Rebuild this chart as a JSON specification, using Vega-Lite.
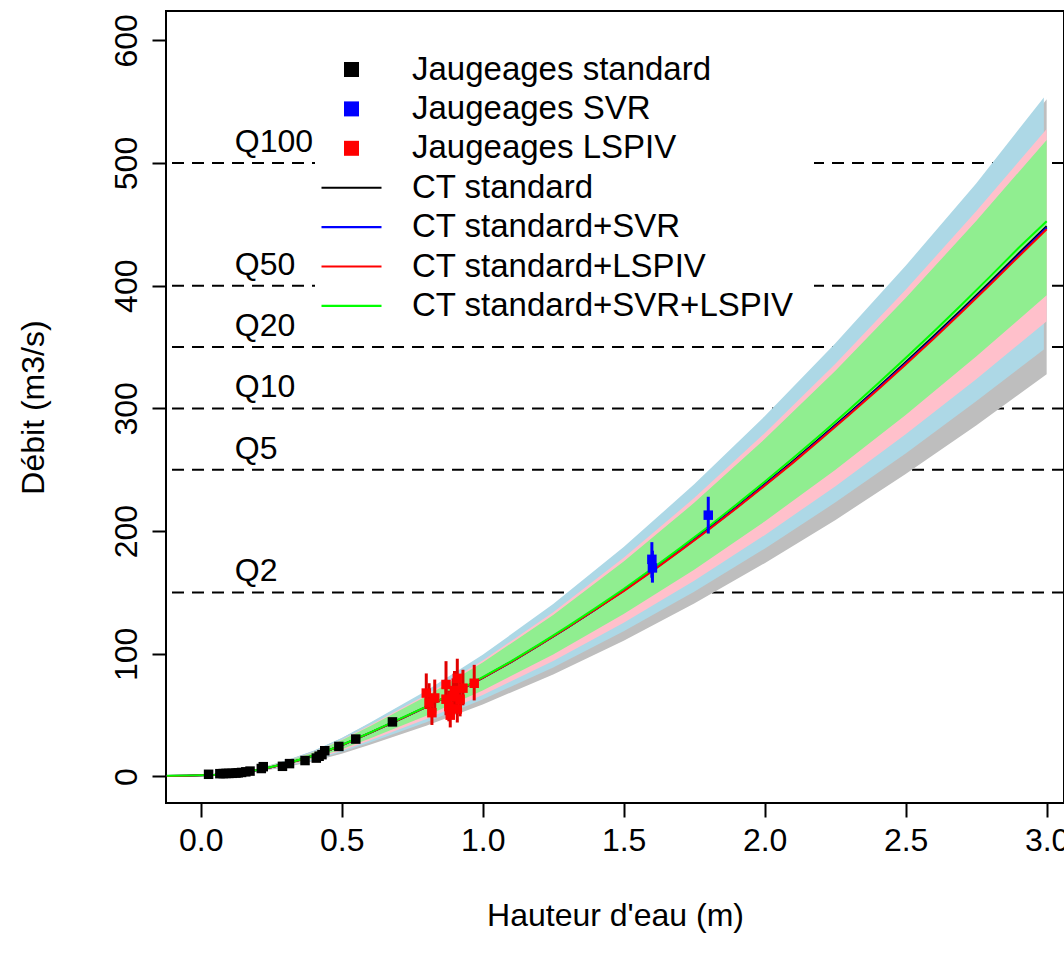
{
  "$schema": "https://vega.github.io/schema/vega-lite/v6.json",
  "width": 898,
  "height": 792,
  "autosize": {"type": "none"},
  "padding": {"left": 166, "top": 11, "right": 0, "bottom": 155},
  "background": "white",
  "config": {
    "font": "Liberation Sans",
    "view": {"stroke": "black", "strokeWidth": 2},
    "axis": {"grid": false, "domain": false, "tickColor": "black", "tickWidth": 2, "tickSize": 14, "labelFontSize": 32, "labelColor": "black", "labelFont": "Liberation Sans", "titleFont": "Liberation Sans", "titleFontSize": 32, "titleFontWeight": "normal", "titleColor": "black", "labelFlush": false, "labelOverlap": false}
  },
  "datasets": {
    "qref": [
      {"Q": 500, "label": "Q100"},
      {"Q": 400, "label": "Q50"},
      {"Q": 350, "label": "Q20"},
      {"Q": 300, "label": "Q10"},
      {"Q": 250, "label": "Q5"},
      {"Q": 150, "label": "Q2"}
    ],
    "bands": [
      {"band": "gris", "h": -0.12, "lo": 0.37, "hi": 0.61},
      {"band": "gris", "h": 0, "lo": 0.73, "hi": 1.22},
      {"band": "gris", "h": 0.1, "lo": 1.61, "hi": 2.68},
      {"band": "gris", "h": 0.2, "lo": 3.8, "hi": 6.34},
      {"band": "gris", "h": 0.3, "lo": 7.59, "hi": 12.69},
      {"band": "gris", "h": 0.4, "lo": 12.41, "hi": 20.74},
      {"band": "gris", "h": 0.5, "lo": 18.62, "hi": 31.11},
      {"band": "gris", "h": 0.6, "lo": 25.92, "hi": 43.31},
      {"band": "gris", "h": 0.8, "lo": 41.39, "hi": 69.17},
      {"band": "gris", "h": 1.0, "lo": 58.69, "hi": 98.09},
      {"band": "gris", "h": 1.25, "lo": 83.22, "hi": 139.08},
      {"band": "gris", "h": 1.5, "lo": 110.74, "hi": 185.07},
      {"band": "gris", "h": 1.75, "lo": 140.96, "hi": 235.58},
      {"band": "gris", "h": 2.0, "lo": 173.81, "hi": 290.48},
      {"band": "gris", "h": 2.25, "lo": 208.93, "hi": 349.16},
      {"band": "gris", "h": 2.5, "lo": 246.45, "hi": 411.87},
      {"band": "gris", "h": 2.75, "lo": 286.16, "hi": 478.24},
      {"band": "gris", "h": 3.0, "lo": 327.92, "hi": 552.0},
      {"band": "bleu", "h": -0.12, "lo": 0.39, "hi": 0.62},
      {"band": "bleu", "h": 0, "lo": 0.78, "hi": 1.23},
      {"band": "bleu", "h": 0.1, "lo": 1.72, "hi": 2.71},
      {"band": "bleu", "h": 0.2, "lo": 4.06, "hi": 6.41},
      {"band": "bleu", "h": 0.3, "lo": 8.11, "hi": 12.82},
      {"band": "bleu", "h": 0.4, "lo": 13.26, "hi": 20.96},
      {"band": "bleu", "h": 0.5, "lo": 19.89, "hi": 31.44},
      {"band": "bleu", "h": 0.6, "lo": 27.69, "hi": 43.77},
      {"band": "bleu", "h": 0.8, "lo": 44.23, "hi": 69.91},
      {"band": "bleu", "h": 1.0, "lo": 62.71, "hi": 99.13},
      {"band": "bleu", "h": 1.25, "lo": 88.92, "hi": 140.56},
      {"band": "bleu", "h": 1.5, "lo": 118.33, "hi": 187.05},
      {"band": "bleu", "h": 1.75, "lo": 150.62, "hi": 238.09},
      {"band": "bleu", "h": 2.0, "lo": 185.72, "hi": 293.58},
      {"band": "bleu", "h": 2.25, "lo": 223.24, "hi": 352.88},
      {"band": "bleu", "h": 2.5, "lo": 263.33, "hi": 416.26},
      {"band": "bleu", "h": 2.75, "lo": 305.76, "hi": 483.34},
      {"band": "bleu", "h": 2.99, "lo": 348.0, "hi": 553.5},
      {"band": "rose", "h": -0.12, "lo": 0.41, "hi": 0.59},
      {"band": "rose", "h": 0, "lo": 0.83, "hi": 1.18},
      {"band": "rose", "h": 0.1, "lo": 1.82, "hi": 2.59},
      {"band": "rose", "h": 0.2, "lo": 4.3, "hi": 6.11},
      {"band": "rose", "h": 0.3, "lo": 8.59, "hi": 12.22},
      {"band": "rose", "h": 0.4, "lo": 14.04, "hi": 19.98},
      {"band": "rose", "h": 0.5, "lo": 21.06, "hi": 29.96},
      {"band": "rose", "h": 0.6, "lo": 29.32, "hi": 41.71},
      {"band": "rose", "h": 0.8, "lo": 46.83, "hi": 66.62},
      {"band": "rose", "h": 1.0, "lo": 66.41, "hi": 94.47},
      {"band": "rose", "h": 1.25, "lo": 94.16, "hi": 133.95},
      {"band": "rose", "h": 1.5, "lo": 125.3, "hi": 178.25},
      {"band": "rose", "h": 1.75, "lo": 159.5, "hi": 226.89},
      {"band": "rose", "h": 2.0, "lo": 196.67, "hi": 279.77},
      {"band": "rose", "h": 2.25, "lo": 236.4, "hi": 336.29},
      {"band": "rose", "h": 2.5, "lo": 278.86, "hi": 396.68},
      {"band": "rose", "h": 2.75, "lo": 323.79, "hi": 460.6},
      {"band": "rose", "h": 3.0, "lo": 371.04, "hi": 527.81},
      {"band": "vert", "h": -0.12, "lo": 0.44, "hi": 0.58},
      {"band": "vert", "h": 0, "lo": 0.87, "hi": 1.16},
      {"band": "vert", "h": 0.1, "lo": 1.92, "hi": 2.54},
      {"band": "vert", "h": 0.2, "lo": 4.54, "hi": 6.01},
      {"band": "vert", "h": 0.3, "lo": 9.08, "hi": 12.01},
      {"band": "vert", "h": 0.4, "lo": 14.84, "hi": 19.64},
      {"band": "vert", "h": 0.5, "lo": 22.26, "hi": 29.45},
      {"band": "vert", "h": 0.6, "lo": 30.99, "hi": 41.0},
      {"band": "vert", "h": 0.8, "lo": 49.5, "hi": 65.49},
      {"band": "vert", "h": 1.0, "lo": 70.19, "hi": 92.86},
      {"band": "vert", "h": 1.25, "lo": 99.52, "hi": 131.67},
      {"band": "vert", "h": 1.5, "lo": 132.43, "hi": 175.21},
      {"band": "vert", "h": 1.75, "lo": 168.58, "hi": 223.03},
      {"band": "vert", "h": 2.0, "lo": 207.86, "hi": 275.01},
      {"band": "vert", "h": 2.25, "lo": 249.85, "hi": 330.56},
      {"band": "vert", "h": 2.5, "lo": 294.72, "hi": 389.93},
      {"band": "vert", "h": 2.75, "lo": 342.22, "hi": 452.76},
      {"band": "vert", "h": 3.0, "lo": 392.15, "hi": 518.83}
    ],
    "curves": [
      {"serie": "CT standard", "h": -0.12, "Q": 0.5}, {"serie": "CT standard", "h": -0.05, "Q": 0.7}, {"serie": "CT standard", "h": 0, "Q": 1.0}, {"serie": "CT standard", "h": 0.05, "Q": 1.4}, {"serie": "CT standard", "h": 0.1, "Q": 2.2}, {"serie": "CT standard", "h": 0.15, "Q": 3.4}, {"serie": "CT standard", "h": 0.2, "Q": 5.2}, {"serie": "CT standard", "h": 0.25, "Q": 7.6}, {"serie": "CT standard", "h": 0.3, "Q": 10.4}, {"serie": "CT standard", "h": 0.35, "Q": 13.5}, {"serie": "CT standard", "h": 0.4, "Q": 17.0}, {"serie": "CT standard", "h": 0.45, "Q": 21.0}, {"serie": "CT standard", "h": 0.5, "Q": 25.5}, {"serie": "CT standard", "h": 0.6, "Q": 35.5}, {"serie": "CT standard", "h": 0.7, "Q": 46.0}, {"serie": "CT standard", "h": 0.8, "Q": 56.7}, {"serie": "CT standard", "h": 0.9, "Q": 68.2}, {"serie": "CT standard", "h": 1.0, "Q": 80.4}, {"serie": "CT standard", "h": 1.1, "Q": 93.3}, {"serie": "CT standard", "h": 1.2, "Q": 107.0}, {"serie": "CT standard", "h": 1.3, "Q": 121.3}, {"serie": "CT standard", "h": 1.4, "Q": 136.2}, {"serie": "CT standard", "h": 1.5, "Q": 151.7}, {"serie": "CT standard", "h": 1.6, "Q": 167.9}, {"serie": "CT standard", "h": 1.7, "Q": 184.6}, {"serie": "CT standard", "h": 1.8, "Q": 201.8}, {"serie": "CT standard", "h": 1.9, "Q": 219.7}, {"serie": "CT standard", "h": 2.0, "Q": 238.1}, {"serie": "CT standard", "h": 2.1, "Q": 256.9}, {"serie": "CT standard", "h": 2.2, "Q": 276.4}, {"serie": "CT standard", "h": 2.3, "Q": 296.3}, {"serie": "CT standard", "h": 2.4, "Q": 316.7}, {"serie": "CT standard", "h": 2.5, "Q": 337.6}, {"serie": "CT standard", "h": 2.6, "Q": 359.0}, {"serie": "CT standard", "h": 2.7, "Q": 380.9}, {"serie": "CT standard", "h": 2.8, "Q": 403.2}, {"serie": "CT standard", "h": 2.9, "Q": 426.0}, {"serie": "CT standard", "h": 3.0, "Q": 448.5},
      {"serie": "CT standard+SVR", "h": -0.12, "Q": 0.5}, {"serie": "CT standard+SVR", "h": -0.05, "Q": 0.7}, {"serie": "CT standard+SVR", "h": 0, "Q": 1.0}, {"serie": "CT standard+SVR", "h": 0.05, "Q": 1.4}, {"serie": "CT standard+SVR", "h": 0.1, "Q": 2.2}, {"serie": "CT standard+SVR", "h": 0.15, "Q": 3.4}, {"serie": "CT standard+SVR", "h": 0.2, "Q": 5.2}, {"serie": "CT standard+SVR", "h": 0.25, "Q": 7.6}, {"serie": "CT standard+SVR", "h": 0.3, "Q": 10.4}, {"serie": "CT standard+SVR", "h": 0.35, "Q": 13.5}, {"serie": "CT standard+SVR", "h": 0.4, "Q": 17.0}, {"serie": "CT standard+SVR", "h": 0.45, "Q": 21.0}, {"serie": "CT standard+SVR", "h": 0.5, "Q": 25.5}, {"serie": "CT standard+SVR", "h": 0.6, "Q": 35.5}, {"serie": "CT standard+SVR", "h": 0.7, "Q": 46.0}, {"serie": "CT standard+SVR", "h": 0.8, "Q": 56.7}, {"serie": "CT standard+SVR", "h": 0.9, "Q": 68.2}, {"serie": "CT standard+SVR", "h": 1.0, "Q": 80.4}, {"serie": "CT standard+SVR", "h": 1.1, "Q": 93.3}, {"serie": "CT standard+SVR", "h": 1.2, "Q": 107.0}, {"serie": "CT standard+SVR", "h": 1.3, "Q": 121.3}, {"serie": "CT standard+SVR", "h": 1.4, "Q": 136.2}, {"serie": "CT standard+SVR", "h": 1.5, "Q": 151.4}, {"serie": "CT standard+SVR", "h": 1.6, "Q": 167.5}, {"serie": "CT standard+SVR", "h": 1.7, "Q": 184.2}, {"serie": "CT standard+SVR", "h": 1.8, "Q": 201.3}, {"serie": "CT standard+SVR", "h": 1.9, "Q": 219.1}, {"serie": "CT standard+SVR", "h": 2.0, "Q": 237.5}, {"serie": "CT standard+SVR", "h": 2.1, "Q": 256.2}, {"serie": "CT standard+SVR", "h": 2.2, "Q": 275.6}, {"serie": "CT standard+SVR", "h": 2.3, "Q": 295.5}, {"serie": "CT standard+SVR", "h": 2.4, "Q": 315.8}, {"serie": "CT standard+SVR", "h": 2.5, "Q": 336.6}, {"serie": "CT standard+SVR", "h": 2.6, "Q": 357.9}, {"serie": "CT standard+SVR", "h": 2.7, "Q": 379.7}, {"serie": "CT standard+SVR", "h": 2.8, "Q": 401.9}, {"serie": "CT standard+SVR", "h": 2.9, "Q": 424.6}, {"serie": "CT standard+SVR", "h": 3.0, "Q": 447.2},
      {"serie": "CT standard+LSPIV", "h": -0.12, "Q": 0.5}, {"serie": "CT standard+LSPIV", "h": -0.05, "Q": 0.7}, {"serie": "CT standard+LSPIV", "h": 0, "Q": 1.0}, {"serie": "CT standard+LSPIV", "h": 0.05, "Q": 1.4}, {"serie": "CT standard+LSPIV", "h": 0.1, "Q": 2.2}, {"serie": "CT standard+LSPIV", "h": 0.15, "Q": 3.4}, {"serie": "CT standard+LSPIV", "h": 0.2, "Q": 5.2}, {"serie": "CT standard+LSPIV", "h": 0.25, "Q": 7.6}, {"serie": "CT standard+LSPIV", "h": 0.3, "Q": 10.4}, {"serie": "CT standard+LSPIV", "h": 0.35, "Q": 13.5}, {"serie": "CT standard+LSPIV", "h": 0.4, "Q": 17.0}, {"serie": "CT standard+LSPIV", "h": 0.45, "Q": 21.0}, {"serie": "CT standard+LSPIV", "h": 0.5, "Q": 25.5}, {"serie": "CT standard+LSPIV", "h": 0.6, "Q": 35.5}, {"serie": "CT standard+LSPIV", "h": 0.7, "Q": 46.0}, {"serie": "CT standard+LSPIV", "h": 0.8, "Q": 56.7}, {"serie": "CT standard+LSPIV", "h": 0.9, "Q": 68.2}, {"serie": "CT standard+LSPIV", "h": 1.0, "Q": 80.4}, {"serie": "CT standard+LSPIV", "h": 1.1, "Q": 93.3}, {"serie": "CT standard+LSPIV", "h": 1.2, "Q": 107.0}, {"serie": "CT standard+LSPIV", "h": 1.3, "Q": 121.3}, {"serie": "CT standard+LSPIV", "h": 1.4, "Q": 136.2}, {"serie": "CT standard+LSPIV", "h": 1.5, "Q": 151.0}, {"serie": "CT standard+LSPIV", "h": 1.6, "Q": 167.2}, {"serie": "CT standard+LSPIV", "h": 1.7, "Q": 183.8}, {"serie": "CT standard+LSPIV", "h": 1.8, "Q": 200.9}, {"serie": "CT standard+LSPIV", "h": 1.9, "Q": 218.6}, {"serie": "CT standard+LSPIV", "h": 2.0, "Q": 237.0}, {"serie": "CT standard+LSPIV", "h": 2.1, "Q": 255.6}, {"serie": "CT standard+LSPIV", "h": 2.2, "Q": 275.0}, {"serie": "CT standard+LSPIV", "h": 2.3, "Q": 294.8}, {"serie": "CT standard+LSPIV", "h": 2.4, "Q": 315.0}, {"serie": "CT standard+LSPIV", "h": 2.5, "Q": 335.8}, {"serie": "CT standard+LSPIV", "h": 2.6, "Q": 357.0}, {"serie": "CT standard+LSPIV", "h": 2.7, "Q": 378.8}, {"serie": "CT standard+LSPIV", "h": 2.8, "Q": 401.0}, {"serie": "CT standard+LSPIV", "h": 2.9, "Q": 423.6}, {"serie": "CT standard+LSPIV", "h": 3.0, "Q": 446.0},
      {"serie": "CT standard+SVR+LSPIV", "h": -0.12, "Q": 0.6}, {"serie": "CT standard+SVR+LSPIV", "h": -0.05, "Q": 0.8}, {"serie": "CT standard+SVR+LSPIV", "h": 0, "Q": 1.1}, {"serie": "CT standard+SVR+LSPIV", "h": 0.05, "Q": 1.5}, {"serie": "CT standard+SVR+LSPIV", "h": 0.1, "Q": 2.3}, {"serie": "CT standard+SVR+LSPIV", "h": 0.15, "Q": 3.5}, {"serie": "CT standard+SVR+LSPIV", "h": 0.2, "Q": 5.3}, {"serie": "CT standard+SVR+LSPIV", "h": 0.25, "Q": 7.7}, {"serie": "CT standard+SVR+LSPIV", "h": 0.3, "Q": 10.5}, {"serie": "CT standard+SVR+LSPIV", "h": 0.35, "Q": 13.6}, {"serie": "CT standard+SVR+LSPIV", "h": 0.4, "Q": 17.1}, {"serie": "CT standard+SVR+LSPIV", "h": 0.45, "Q": 21.1}, {"serie": "CT standard+SVR+LSPIV", "h": 0.5, "Q": 25.7}, {"serie": "CT standard+SVR+LSPIV", "h": 0.6, "Q": 35.7}, {"serie": "CT standard+SVR+LSPIV", "h": 0.7, "Q": 46.3}, {"serie": "CT standard+SVR+LSPIV", "h": 0.8, "Q": 57.0}, {"serie": "CT standard+SVR+LSPIV", "h": 0.9, "Q": 68.6}, {"serie": "CT standard+SVR+LSPIV", "h": 1.0, "Q": 80.9}, {"serie": "CT standard+SVR+LSPIV", "h": 1.1, "Q": 93.9}, {"serie": "CT standard+SVR+LSPIV", "h": 1.2, "Q": 107.7}, {"serie": "CT standard+SVR+LSPIV", "h": 1.3, "Q": 122.1}, {"serie": "CT standard+SVR+LSPIV", "h": 1.4, "Q": 137.2}, {"serie": "CT standard+SVR+LSPIV", "h": 1.5, "Q": 152.8}, {"serie": "CT standard+SVR+LSPIV", "h": 1.6, "Q": 169.2}, {"serie": "CT standard+SVR+LSPIV", "h": 1.7, "Q": 186.1}, {"serie": "CT standard+SVR+LSPIV", "h": 1.8, "Q": 203.5}, {"serie": "CT standard+SVR+LSPIV", "h": 1.9, "Q": 221.6}, {"serie": "CT standard+SVR+LSPIV", "h": 2.0, "Q": 240.2}, {"serie": "CT standard+SVR+LSPIV", "h": 2.1, "Q": 259.3}, {"serie": "CT standard+SVR+LSPIV", "h": 2.2, "Q": 279.0}, {"serie": "CT standard+SVR+LSPIV", "h": 2.3, "Q": 299.2}, {"serie": "CT standard+SVR+LSPIV", "h": 2.4, "Q": 319.8}, {"serie": "CT standard+SVR+LSPIV", "h": 2.5, "Q": 341.0}, {"serie": "CT standard+SVR+LSPIV", "h": 2.6, "Q": 362.7}, {"serie": "CT standard+SVR+LSPIV", "h": 2.7, "Q": 384.9}, {"serie": "CT standard+SVR+LSPIV", "h": 2.8, "Q": 407.6}, {"serie": "CT standard+SVR+LSPIV", "h": 2.9, "Q": 430.7}, {"serie": "CT standard+SVR+LSPIV", "h": 3.0, "Q": 452.5}
    ],
    "gauges": [
      {"serie": "Jaugeages standard", "h": 0.028, "Q": 1.8},
      {"serie": "Jaugeages standard", "h": 0.068, "Q": 2.3},
      {"serie": "Jaugeages standard", "h": 0.08, "Q": 2.4},
      {"serie": "Jaugeages standard", "h": 0.09, "Q": 2.5},
      {"serie": "Jaugeages standard", "h": 0.1, "Q": 2.5},
      {"serie": "Jaugeages standard", "h": 0.112, "Q": 2.6},
      {"serie": "Jaugeages standard", "h": 0.125, "Q": 2.8},
      {"serie": "Jaugeages standard", "h": 0.133, "Q": 3.0},
      {"serie": "Jaugeages standard", "h": 0.145, "Q": 3.3},
      {"serie": "Jaugeages standard", "h": 0.16, "Q": 3.8},
      {"serie": "Jaugeages standard", "h": 0.175, "Q": 4.4},
      {"serie": "Jaugeages standard", "h": 0.215, "Q": 6.5},
      {"serie": "Jaugeages standard", "h": 0.222, "Q": 8.0},
      {"serie": "Jaugeages standard", "h": 0.29, "Q": 8.3},
      {"serie": "Jaugeages standard", "h": 0.315, "Q": 10.5},
      {"serie": "Jaugeages standard", "h": 0.37, "Q": 13.0},
      {"serie": "Jaugeages standard", "h": 0.41, "Q": 15.0},
      {"serie": "Jaugeages standard", "h": 0.42, "Q": 16.5},
      {"serie": "Jaugeages standard", "h": 0.43, "Q": 17.8},
      {"serie": "Jaugeages standard", "h": 0.44, "Q": 21.0},
      {"serie": "Jaugeages standard", "h": 0.49, "Q": 24.5},
      {"serie": "Jaugeages standard", "h": 0.55, "Q": 30.5},
      {"serie": "Jaugeages standard", "h": 0.68, "Q": 44.5},
      {"serie": "Jaugeages SVR", "h": 1.6, "Q": 177, "lo": 162, "hi": 191},
      {"serie": "Jaugeages SVR", "h": 1.602, "Q": 170, "lo": 158, "hi": 184},
      {"serie": "Jaugeages SVR", "h": 1.8, "Q": 213, "lo": 198, "hi": 228},
      {"serie": "Jaugeages LSPIV", "h": 0.8, "Q": 68, "lo": 55, "hi": 84},
      {"serie": "Jaugeages LSPIV", "h": 0.81, "Q": 60, "lo": 50, "hi": 76},
      {"serie": "Jaugeages LSPIV", "h": 0.83, "Q": 64, "lo": 52, "hi": 79},
      {"serie": "Jaugeages LSPIV", "h": 0.82, "Q": 52, "lo": 42, "hi": 62},
      {"serie": "Jaugeages LSPIV", "h": 0.87, "Q": 75, "lo": 58, "hi": 94},
      {"serie": "Jaugeages LSPIV", "h": 0.87, "Q": 63, "lo": 50, "hi": 78},
      {"serie": "Jaugeages LSPIV", "h": 0.88, "Q": 57, "lo": 45, "hi": 70},
      {"serie": "Jaugeages LSPIV", "h": 0.885, "Q": 50, "lo": 40, "hi": 62},
      {"serie": "Jaugeages LSPIV", "h": 0.895, "Q": 65, "lo": 51, "hi": 80},
      {"serie": "Jaugeages LSPIV", "h": 0.9, "Q": 70, "lo": 55, "hi": 86},
      {"serie": "Jaugeages LSPIV", "h": 0.91, "Q": 80, "lo": 65, "hi": 96},
      {"serie": "Jaugeages LSPIV", "h": 0.92, "Q": 63, "lo": 49, "hi": 78},
      {"serie": "Jaugeages LSPIV", "h": 0.91, "Q": 55, "lo": 44, "hi": 67},
      {"serie": "Jaugeages LSPIV", "h": 0.93, "Q": 72, "lo": 58, "hi": 87},
      {"serie": "Jaugeages LSPIV", "h": 0.97, "Q": 76, "lo": 62, "hi": 91}
    ]
  },
  "encoding": {
    "x": {"type": "quantitative", "scale": {"domain": [-0.123, 3.0615], "nice": false, "zero": false},
      "axis": {"values": [0, 0.5, 1, 1.5, 2, 2.5, 3], "format": ".1f", "title": "Hauteur d'eau (m)", "labelPadding": 8, "titlePadding": 44}},
    "y": {"type": "quantitative", "scale": {"domain": [-21.6, 623.9], "nice": false, "zero": false},
      "axis": {"values": [0, 100, 200, 300, 400, 500, 600], "format": "d", "title": "Débit (m3/s)", "labelAngle": -90, "labelPadding": 9, "titlePadding": 60}}
  },
  "layer": [
    {
      "data": {"name": "qref"},
      "mark": {"type": "rule", "color": "black", "strokeWidth": 2, "strokeDash": [12, 8]},
      "encoding": {
        "x": null,
        "y": {"field": "Q", "type": "quantitative"}
      }
    },
    {
      "data": {"name": "qref"},
      "mark": {"type": "text", "align": "left", "baseline": "alphabetic", "dy": -11, "fontSize": 32, "font": "Liberation Sans", "color": "black"},
      "encoding": {
        "x": {"datum": 0.121, "type": "quantitative"},
        "y": {"field": "Q", "type": "quantitative"},
        "text": {"field": "label"}
      }
    },
    {
      "data": {"name": "bands"},
      "transform": [{"filter": "datum.band === 'gris'"}],
      "mark": {"type": "area", "color": "#bebebe", "opacity": 1},
      "encoding": {
        "x": {"field": "h", "type": "quantitative"},
        "y": {"field": "lo", "type": "quantitative"},
        "y2": {"field": "hi"}
      }
    },
    {
      "data": {"name": "bands"},
      "transform": [{"filter": "datum.band === 'bleu'"}],
      "mark": {"type": "area", "color": "#add8e6", "opacity": 1},
      "encoding": {
        "x": {"field": "h", "type": "quantitative"},
        "y": {"field": "lo", "type": "quantitative"},
        "y2": {"field": "hi"}
      }
    },
    {
      "data": {"name": "bands"},
      "transform": [{"filter": "datum.band === 'rose'"}],
      "mark": {"type": "area", "color": "#ffc0cb", "opacity": 1},
      "encoding": {
        "x": {"field": "h", "type": "quantitative"},
        "y": {"field": "lo", "type": "quantitative"},
        "y2": {"field": "hi"}
      }
    },
    {
      "data": {"name": "bands"},
      "transform": [{"filter": "datum.band === 'vert'"}],
      "mark": {"type": "area", "color": "#90ee90", "opacity": 1},
      "encoding": {
        "x": {"field": "h", "type": "quantitative"},
        "y": {"field": "lo", "type": "quantitative"},
        "y2": {"field": "hi"}
      }
    },
    {
      "data": {"name": "curves"},
      "mark": {"type": "line", "strokeWidth": 2},
      "encoding": {
        "x": {"field": "h", "type": "quantitative"},
        "y": {"field": "Q", "type": "quantitative"},
        "stroke": {"field": "serie", "type": "nominal", "legend": null,
          "scale": {"domain": ["Jaugeages SVR", "Jaugeages LSPIV", "CT standard", "CT standard+SVR", "CT standard+LSPIV", "CT standard+SVR+LSPIV"], "range": ["#0000ff", "#e00000", "#000000", "#0000ff", "#ff0000", "#00ff00"]}},
        "order": {"field": "h"}
      }
    },
    {
      "data": {"name": "gauges"},
      "transform": [{"filter": "isValid(datum.lo)"}],
      "mark": {"type": "rule", "strokeWidth": 3},
      "encoding": {
        "x": {"field": "h", "type": "quantitative"},
        "y": {"field": "lo", "type": "quantitative"},
        "y2": {"field": "hi"},
        "stroke": {"field": "serie", "type": "nominal", "legend": null}
      }
    },
    {
      "data": {"name": "gauges"},
      "mark": {"type": "point", "filled": true, "size": 90, "opacity": 1},
      "encoding": {
        "x": {"field": "h", "type": "quantitative"},
        "y": {"field": "Q", "type": "quantitative"},
        "color": {"field": "serie", "type": "nominal",
          "scale": {"domain": ["Jaugeages standard", "Jaugeages SVR", "Jaugeages LSPIV", "CT standard", "CT standard+SVR", "CT standard+LSPIV", "CT standard+SVR+LSPIV"], "range": ["#000000", "#0000ff", "#ff0000", "#000000", "#0000ff", "#ff0000", "#00ff00"]},
          "legend": {"title": null, "orient": "none", "legendX": 149, "legendY": 22, "fillColor": "white", "padding": 20, "symbolSize": 225, "symbolStrokeWidth": 0, "symbolOffset": 0, "labelOffset": 44, "rowPadding": 5.4, "labelFontSize": 33, "labelFont": "Liberation Sans", "labelColor": "black", "labelLimit": 0}},
        "shape": {"field": "serie", "type": "nominal",
          "scale": {"domain": ["Jaugeages standard", "Jaugeages SVR", "Jaugeages LSPIV", "CT standard", "CT standard+SVR", "CT standard+LSPIV", "CT standard+SVR+LSPIV"], "range": ["square", "square", "square", "M-4,-0.14H4V0.14H-4Z", "M-4,-0.14H4V0.14H-4Z", "M-4,-0.14H4V0.14H-4Z", "M-4,-0.14H4V0.14H-4Z"]},
          "legend": {"title": null, "orient": "none", "legendX": 149, "legendY": 22, "fillColor": "white", "padding": 20, "symbolSize": 225, "symbolStrokeWidth": 0, "symbolOffset": 0, "labelOffset": 44, "rowPadding": 5.4, "labelFontSize": 33, "labelFont": "Liberation Sans", "labelColor": "black", "labelLimit": 0}}
      }
    }
  ]
}
